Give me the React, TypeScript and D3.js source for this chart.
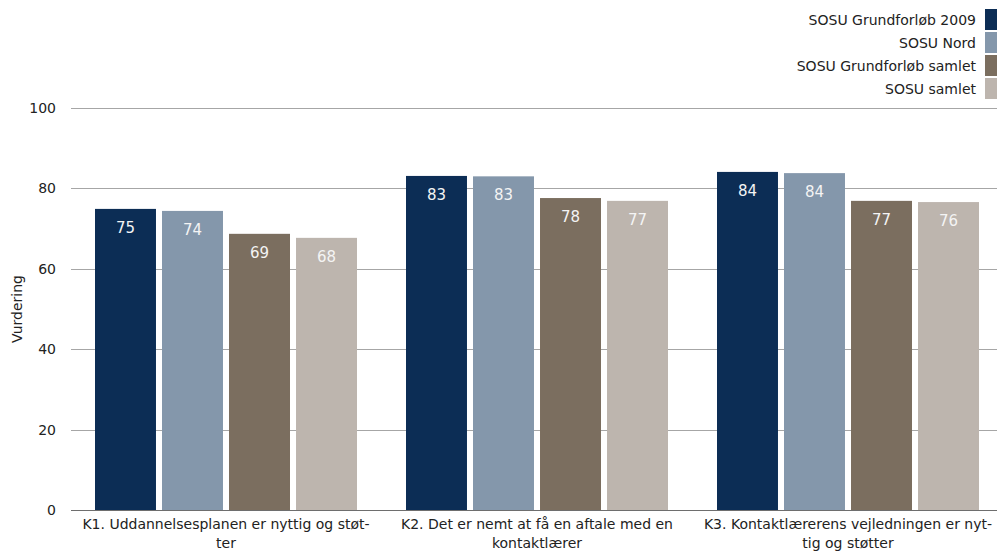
import React from "react";
import * as d3 from "d3";

const categories = ["K1", "K2", "K3"];
const categoryLabels: string[][] = [
  ["K1. Uddannelsesplanen er nyttig og støt-", "ter"],
  ["K2. Det er nemt at få en aftale med en", "kontaktlærer"],
  ["K3. Kontaktlærerens vejledningen er nyt-", "tig og støtter"],
];
const seriesNames = ["SOSU Grundforløb 2009", "SOSU Nord", "SOSU Grundforløb samlet", "SOSU samlet"];
const seriesColors = ["#0c2d55", "#8497ab", "#7b6e5f", "#bdb5ae"];
const values: number[][] = [
  [74.9, 74.4, 68.7, 67.7],
  [83.1, 83.0, 77.6, 76.9],
  [84.1, 83.8, 76.9, 76.6],
];
const valueLabels: string[][] = [
  ["75", "74", "69", "68"],
  ["83", "83", "78", "77"],
  ["84", "84", "77", "76"],
];
const yTicks = [0, 20, 40, 60, 80, 100];

const W = 997;
const H = 554;
const FONT = "Tahoma, 'DejaVu Sans', Verdana, sans-serif";

export default function App() {
  const y = d3.scaleLinear().domain([0, 100]).range([510, 108]);
  const x0 = d3.scaleBand<string>().domain(categories).range([70.5, 1003.5]).paddingInner(0).paddingOuter(0);
  const x1 = d3
    .scaleBand<string>()
    .domain(seriesNames)
    .range([24.5, 286.5])
    .paddingInner(0.09);

  return (
    <svg
      width={W}
      height={H}
      style={{ position: "absolute", left: 0, top: 0, fontFamily: FONT }}
    >
      <rect width={W} height={H} fill="#fff" />
      {yTicks.map((t) => (
        <g key={t}>
          <line
            x1={71}
            x2={W}
            y1={Math.round(y(t)) + 0.5}
            y2={Math.round(y(t)) + 0.5}
            stroke={t === 0 ? "#6e6e6e" : "#a6a6a6"}
            strokeWidth={1}
          />
          <text x={56} y={y(t)} dy="0.35em" textAnchor="end" fontSize={14} fill="#222">
            {t}
          </text>
        </g>
      ))}
      <text
        transform={`translate(17,${y(50)}) rotate(-90)`}
        textAnchor="middle"
        dy="0.35em"
        fontSize={14}
        fill="#222"
      >
        Vurdering
      </text>
      {categories.map((c, ci) => (
        <g key={c} transform={`translate(${x0(c)},0)`}>
          {seriesNames.map((s, si) => {
            const v = values[ci][si];
            const bx = x1(s)!;
            const bw = x1.bandwidth();
            return (
              <g key={s}>
                <rect x={bx} y={y(v)} width={bw} height={y(0) - y(v)} fill={seriesColors[si]} />
                <text
                  x={bx + bw / 2}
                  y={y(v) + 24}
                  textAnchor="middle"
                  fontSize={15}
                  fill="#f4f4f4"
                >
                  {valueLabels[ci][si]}
                </text>
              </g>
            );
          })}
          {categoryLabels[ci].map((line, li) => (
            <text
              key={li}
              x={x0.bandwidth() / 2}
              y={529 + li * 19}
              textAnchor="middle"
              fontSize={14}
              fill="#222"
            >
              {line}
            </text>
          ))}
        </g>
      ))}
      {seriesNames.map((s, i) => (
        <g key={s}>
          <rect x={985} y={9 + i * 23} width={12} height={21} fill={seriesColors[i]} />
          <text x={976} y={20 + i * 23} dy="0.35em" textAnchor="end" fontSize={14} fill="#222">
            {s}
          </text>
        </g>
      ))}
    </svg>
  );
}
